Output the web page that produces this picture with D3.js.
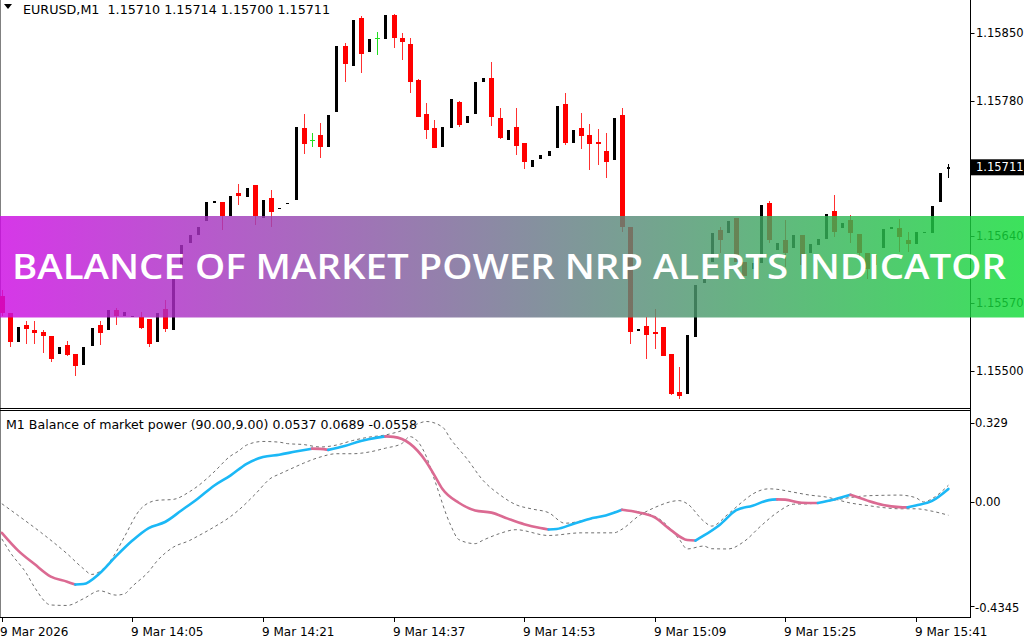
<!DOCTYPE html>
<html><head><meta charset="utf-8">
<script src="https://cdn.jsdelivr.net/npm/d3@7"></script>
<style>html,body{margin:0;padding:0;background:#fff;overflow:hidden}svg{display:block}</style>
</head><body>
<svg id="c" width="1024" height="640"></svg>
<script>
// ---------- DATA ----------
const symbolTitle = "EURUSD,M1  1.15710 1.15714 1.15700 1.15711";
const indTitle = "M1 Balance of market power (90.00,9.00) 0.0537 0.0689 -0.0558";
const bannerText = "BALANCE OF MARKET POWER NRP ALERTS INDICATOR";

const openP = [1.15578,1.15560,1.15530,1.15547,1.15542,1.15540,1.15536,1.15517,1.15527,1.15517,
1.15506,1.15526,1.15547,1.15542,1.15563,1.15557,1.15556,1.15556,1.15554,1.15530,
1.15564,1.15542,1.15610,1.15632,1.15641,1.15655,1.15675,1.15675,1.15660,1.15684,
1.15680,1.15693,1.15658,1.15679,1.15668,1.15673,1.15677,1.15752,1.15739,1.15744,
1.15732,1.15768,1.15837,1.15816,1.15866,1.15831,1.15845,1.15844,1.15869,1.15845,
1.15839,1.15802,1.15766,1.15752,1.15732,1.15752,1.15779,1.15757,1.15766,1.15800,
1.15804,1.15762,1.15739,1.15753,1.15736,1.15711,1.15720,1.15723,1.15731,1.15777,
1.15736,1.15752,1.15745,1.15737,1.15728,1.15719,1.15765,1.15649,1.15542,1.15546,
1.15540,1.15545,1.15517,1.15478,1.15476,1.15535,1.15591,1.15613,1.15646,1.15643,
1.15658,1.15613,1.15605,1.15612,1.15674,1.15625,1.15636,1.15627,1.15641,1.15622,
1.15630,1.15637,1.15666,1.15648,1.15656,1.15642,1.15622,1.15610,1.15627,1.15648,
1.15648,1.15636,1.15631,1.15643,1.15643,1.15675,1.15710];
const closeP = [1.15560,1.15530,1.15545,1.15543,1.15539,1.15536,1.15512,1.15525,1.15516,1.15505,
1.15525,1.15544,1.15539,1.15563,1.15557,1.15561,1.15557,1.15544,1.15528,1.15560,
1.15543,1.15597,1.15630,1.15641,1.15649,1.15675,1.15676,1.15660,1.15681,1.15681,
1.15690,1.15660,1.15677,1.15665,1.15669,1.15674,1.15753,1.15735,1.15739,1.15732,
1.15765,1.15837,1.15818,1.15864,1.15829,1.15844,1.15845,1.15869,1.15845,1.15841,
1.15799,1.15763,1.15750,1.15731,1.15753,1.15782,1.15755,1.15764,1.15800,1.15804,
1.15763,1.15741,1.15750,1.15733,1.15716,1.15719,1.15724,1.15728,1.15775,1.15736,
1.15750,1.15743,1.15735,1.15735,1.15716,1.15762,1.15649,1.15540,1.15543,1.15537,
1.15539,1.15515,1.15476,1.15474,1.15537,1.15589,1.15613,1.15643,1.15636,1.15655,
1.15613,1.15598,1.15612,1.15672,1.15636,1.15632,1.15622,1.15641,1.15610,1.15631,
1.15637,1.15663,1.15644,1.15653,1.15643,1.15622,1.15605,1.15620,1.15647,1.15649,
1.15639,1.15631,1.15644,1.15644,1.15671,1.15705,1.15711];
const highP = [1.15584,1.15560,1.15545,1.15552,1.15552,1.15542,1.15536,1.15525,1.15531,1.15517,
1.15525,1.15544,1.15552,1.15563,1.15565,1.15561,1.15557,1.15561,1.15554,1.15560,
1.15573,1.15597,1.15630,1.15641,1.15649,1.15675,1.15676,1.15675,1.15681,1.15694,
1.15690,1.15693,1.15677,1.15687,1.15669,1.15674,1.15753,1.15766,1.15747,1.15757,
1.15765,1.15837,1.15840,1.15864,1.15868,1.15844,1.15851,1.15869,1.15870,1.15850,
1.15845,1.15803,1.15778,1.15760,1.15753,1.15782,1.15780,1.15764,1.15800,1.15804,
1.15820,1.15772,1.15750,1.15773,1.15736,1.15719,1.15724,1.15728,1.15775,1.15788,
1.15750,1.15767,1.15756,1.15751,1.15747,1.15762,1.15773,1.15649,1.15543,1.15556,
1.15564,1.15545,1.15517,1.15504,1.15537,1.15589,1.15613,1.15643,1.15649,1.15655,
1.15658,1.15613,1.15612,1.15672,1.15676,1.15632,1.15656,1.15641,1.15641,1.15631,
1.15637,1.15663,1.15682,1.15653,1.15662,1.15642,1.15622,1.15620,1.15647,1.15649,
1.15657,1.15644,1.15644,1.15644,1.15671,1.15705,1.15714];
const lowP = [1.15557,1.15525,1.15530,1.15528,1.15528,1.15518,1.15509,1.15517,1.15515,1.15495,
1.15506,1.15526,1.15527,1.15542,1.15547,1.15557,1.15556,1.15543,1.15525,1.15530,
1.15540,1.15542,1.15610,1.15632,1.15641,1.15655,1.15675,1.15646,1.15660,1.15672,
1.15680,1.15651,1.15658,1.15649,1.15668,1.15673,1.15677,1.15725,1.15732,1.15721,
1.15732,1.15768,1.15800,1.15816,1.15809,1.15831,1.15827,1.15844,1.15835,1.15822,
1.15788,1.15763,1.15740,1.15731,1.15732,1.15752,1.15753,1.15757,1.15766,1.15800,
1.15754,1.15740,1.15739,1.15724,1.15709,1.15711,1.15720,1.15723,1.15731,1.15734,
1.15736,1.15730,1.15708,1.15713,1.15700,1.15719,1.15644,1.15528,1.15542,1.15512,
1.15522,1.15515,1.15475,1.15471,1.15476,1.15535,1.15591,1.15613,1.15622,1.15643,
1.15613,1.15598,1.15605,1.15612,1.15632,1.15625,1.15608,1.15627,1.15605,1.15622,
1.15630,1.15637,1.15639,1.15648,1.15632,1.15615,1.15595,1.15610,1.15627,1.15648,
1.15623,1.15623,1.15631,1.15643,1.15643,1.15675,1.15700];

const timeTickBars = [0,16,32,48,64,80,96,112];
const timeLabels = ["9 Mar 2026","9 Mar 14:05","9 Mar 14:21","9 Mar 14:37","9 Mar 14:53","9 Mar 15:09","9 Mar 15:25","9 Mar 15:41"];
const priceTicks = [1.15850,1.15780,1.15640,1.15570,1.15500];
const lastPrice = 1.15711;
const indTicks = [0.329,0.00,-0.4345];
const indTickLabels = ["0.329","0.00","-0.4345"];

const bopBars = [0,2,4,6,8,9,10,12,14,16,18,20,22,24,26,28,30,32,34,36,38,39,40,42,44,46,47,48,50,52,53,54,56,58,60,62,64,66,67,68,70,72,74,76,78,80,82,84,85,86,88,90,92,94,95,96,98,100,102,104,106,108,110,111,112,114,116];
const bopVals = [-0.129,-0.203,-0.259,-0.311,-0.332,-0.344,-0.342,-0.297,-0.226,-0.161,-0.109,-0.084,-0.036,0.013,0.067,0.109,0.158,0.186,0.196,0.209,0.221,0.220,0.216,0.232,0.253,0.267,0.272,0.270,0.242,0.167,0.111,0.053,-0.004,-0.036,-0.045,-0.070,-0.093,-0.109,-0.115,-0.113,-0.092,-0.071,-0.057,-0.033,-0.044,-0.065,-0.118,-0.159,-0.161,-0.141,-0.095,-0.035,-0.016,0.007,0.010,0.009,-0.004,-0.005,0.010,0.029,0.006,-0.013,-0.022,-0.023,-0.015,0.004,0.0537];

const bandABars = [0,2,5,8,10,11,13,14,15,17,19,21,23,24,26,28,29,30,32,34,35,37,39,41,43,45,47,50,51,52,54,55,57,59,61,63,65,67,69,72,74,76,78,81,83,84,86,87,89,91,93,95,97,99,102,104,106,108,110,112,113,114,116];
const bandAVals = [-0.008,-0.057,-0.133,-0.216,-0.278,-0.302,-0.258,-0.209,-0.147,-0.030,0.006,0.010,0.042,0.065,0.124,0.190,0.211,0.236,0.251,0.248,0.242,0.238,0.228,0.236,0.255,0.269,0.278,0.309,0.325,0.334,0.311,0.261,0.179,0.088,0.030,-0.012,-0.030,-0.045,-0.089,-0.072,-0.057,-0.035,-0.041,-0.082,-0.155,-0.196,-0.184,-0.195,-0.196,-0.164,-0.101,-0.045,-0.010,-0.008,0.007,0.018,0.025,0.027,0.028,0.017,-0.001,0.013,0.0689];

const bandBBars = [0,1,3,4,6,8,10,12,14,15,16,18,19,21,23,24,26,28,29,31,33,34,36,37,39,41,43,45,47,49,50,52,53,55,56,58,59,61,63,67,71,75,76,78,80,83,84,86,87,89,91,92,94,95,97,99,101,104,106,108,110,112,114,116];
const bandBVals = [-0.154,-0.209,-0.297,-0.355,-0.429,-0.431,-0.403,-0.370,-0.388,-0.383,-0.351,-0.290,-0.247,-0.189,-0.161,-0.143,-0.105,-0.062,-0.035,0.030,0.099,0.115,0.146,0.161,0.186,0.200,0.200,0.207,0.223,0.242,0.271,0.190,0.094,-0.097,-0.157,-0.174,-0.159,-0.132,-0.116,-0.140,-0.129,-0.129,-0.114,-0.060,-0.024,0.005,-0.008,-0.080,-0.101,-0.051,0.007,0.032,0.054,0.052,0.040,0.028,0.020,-0.005,-0.015,-0.024,-0.029,-0.029,-0.039,-0.0558];

// ---------- RENDER ----------
const svg = d3.select("#c");
const FONT = "DejaVu Sans";
const x = d3.scaleLinear().domain([0,116]).range([1.84,948.4]);
const y = d3.scaleLinear().domain([1.15500,1.15850]).range([370.7,33.3]);
const yi = d3.scaleLinear().domain([-0.4345,0.329]).range([606.3,422.7]);
const AX = 970.5;

// frames
const fr = svg.append("g").attr("fill","none").attr("shape-rendering","crispEdges");
fr.append("line").attr("x1",0.5).attr("x2",0.5).attr("y1",0).attr("y2",617.5).attr("stroke","#808080");
fr.append("line").attr("x1",0).attr("x2",AX).attr("y1",408.5).attr("y2",408.5).attr("stroke","#000");
fr.append("line").attr("x1",0).attr("x2",AX).attr("y1",410.5).attr("y2",410.5).attr("stroke","#000");
fr.append("line").attr("x1",0).attr("x2",AX).attr("y1",617.5).attr("y2",617.5).attr("stroke","#000");
fr.append("line").attr("x1",AX).attr("x2",AX).attr("y1",0).attr("y2",618).attr("stroke","#000");

// candles
const cg = svg.append("g").attr("shape-rendering","crispEdges");
openP.forEach((o,i)=>{
  const c = closeP[i], h = highP[i], l = lowP[i];
  const cx = Math.round(x(i));
  const up = c > o, doji = c === o;
  if (doji) {
    cg.append("line").attr("x1",cx+0.5).attr("x2",cx+0.5).attr("y1",y(h)).attr("y2",y(l)).attr("stroke","#22dd22");
    cg.append("rect").attr("x",cx-2).attr("width",5).attr("y",Math.round(y(o))-0.5).attr("height",1.5).attr("fill","#22dd22");
  } else if (up) {
    cg.append("line").attr("x1",cx+0.5).attr("x2",cx+0.5).attr("y1",y(h)).attr("y2",y(l)).attr("stroke","#000");
    const t = y(c), b = y(o);
    cg.append("rect").attr("x",cx-1).attr("width",3).attr("y",t).attr("height",Math.max(1.5,b-t)).attr("fill","#000");
  } else {
    cg.append("line").attr("x1",cx+0.5).attr("x2",cx+0.5).attr("y1",y(h)).attr("y2",y(l)).attr("stroke","#ff3030");
    const t = y(o), b = y(c);
    cg.append("rect").attr("x",cx-2).attr("width",5).attr("y",t).attr("height",Math.max(1.5,b-t)).attr("fill","#ff0000");
  }
});

// price axis
const pa = svg.append("g");
const LBL = 11.5;
priceTicks.forEach(p=>{
  pa.append("line").attr("x1",AX).attr("x2",AX+4).attr("y1",Math.round(y(p))+0.5).attr("y2",Math.round(y(p))+0.5).attr("stroke","#000");
  pa.append("text").attr("x",976).attr("y",y(p)).attr("dy","0.36em").attr("font-family",FONT).attr("font-size",LBL).attr("fill","#000").text(p.toFixed(5));
});
pa.append("rect").attr("x",971).attr("y",y(lastPrice)-8).attr("width",53).attr("height",16).attr("fill","#000");
pa.append("text").attr("x",976).attr("y",y(lastPrice)).attr("dy","0.36em").attr("font-family",FONT).attr("font-size",LBL).attr("fill","#fff").text(lastPrice.toFixed(5));

// indicator axis
indTicks.forEach((v,k)=>{
  pa.append("line").attr("x1",AX).attr("x2",AX+4).attr("y1",Math.round(yi(v))+0.5).attr("y2",Math.round(yi(v))+0.5).attr("stroke","#000");
  pa.append("text").attr("x",975).attr("y",yi(v)+(k===2?1.5:0)).attr("dy","0.36em").attr("font-family",FONT).attr("font-size",LBL).attr("fill","#000").text(indTickLabels[k]);
});

// time axis
timeTickBars.forEach((b,k)=>{
  const tx = Math.round(x(b));
  pa.append("line").attr("x1",tx+0.5).attr("x2",tx+0.5).attr("y1",618).attr("y2",622).attr("stroke","#000");
  pa.append("text").attr("x",k===0?0:tx-1).attr("y",636).attr("font-family",FONT).attr("font-size",12).attr("fill","#000").text(timeLabels[k]);
});

// titles
svg.append("path").attr("d","M4,4 L12,4 L8,9 Z").attr("fill","#000");
svg.append("text").attr("x",23).attr("y",14).attr("font-family",FONT).attr("font-size",12.5).attr("fill","#000")
  .attr("xml:space","preserve").attr("textLength",307).attr("lengthAdjust","spacingAndGlyphs").text(symbolTitle);

// indicator lines
const dashLine = d3.line().x(d=>x(d[0])).y(d=>yi(d[1])).curve(d3.curveMonotoneX);
const ig = svg.append("g");
[[bandABars,bandAVals],[bandBBars,bandBVals]].forEach(([bs,vs])=>{
  ig.append("path").attr("d",dashLine(bs.map((b,k)=>[b,vs[k]])))
    .attr("fill","none").attr("stroke","#707070").attr("stroke-width",1).attr("stroke-dasharray","3,3");
});
const pts = bopBars.map((b,k)=>[b,bopVals[k]]);
const BLUE = "#1bb8f6", PINK = "#db6a92";
let runs = [];
for (let k=0;k<pts.length-1;k++){
  const col = pts[k+1][1] > pts[k][1] ? BLUE : PINK;
  if (runs.length && runs[runs.length-1].col===col) runs[runs.length-1].p.push(pts[k+1]);
  else runs.push({col, p:[pts[k],pts[k+1]]});
}
runs.forEach(r=>{
  ig.append("path").attr("d",dashLine(r.p)).attr("fill","none").attr("stroke",r.col)
    .attr("stroke-width",2.6).attr("stroke-linecap","round").attr("stroke-linejoin","round");
});
svg.append("text").attr("x",6).attr("y",429).attr("font-family",FONT).attr("font-size",12.2).attr("fill","#000")
  .attr("textLength",411).attr("lengthAdjust","spacingAndGlyphs").text(indTitle);

// banner
const defs = svg.append("defs");
const gr = defs.append("linearGradient").attr("id","bannerGrad").attr("x1","0").attr("x2","1").attr("y1","0").attr("y2","0");
gr.append("stop").attr("offset","0").attr("stop-color","rgb(205,11,227)");
gr.append("stop").attr("offset","1").attr("stop-color","rgb(17,220,56)");
svg.append("rect").attr("x",0).attr("y",216).attr("width",1024).attr("height",101.5)
  .attr("fill","url(#bannerGrad)").attr("opacity",0.82);
svg.append("text").attr("x",12).attr("y",278.5).attr("font-family","Open Sans").attr("font-weight",600)
  .attr("font-size",35).attr("fill","#fff").attr("textLength",994).attr("lengthAdjust","spacingAndGlyphs").text(bannerText);
</script>
</body></html>
